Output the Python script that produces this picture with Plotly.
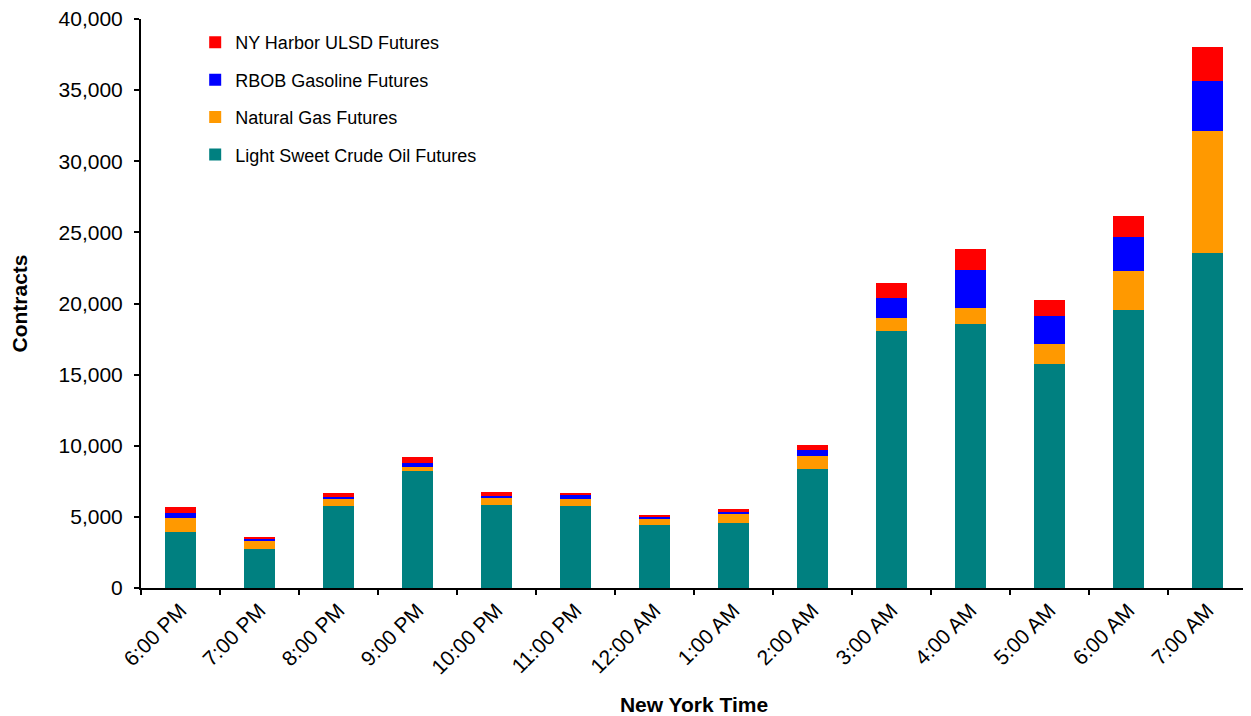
import plotly.graph_objects as go

categories = ["6:00 PM", "7:00 PM", "8:00 PM", "9:00 PM", "10:00 PM", "11:00 PM", "12:00 AM",
              "1:00 AM", "2:00 AM", "3:00 AM", "4:00 AM", "5:00 AM", "6:00 AM", "7:00 AM"]
crude = [3950, 2760, 5790, 8200, 5830, 5790, 4410, 4590, 8390, 18090, 18560, 15750, 19570, 23550]
natgas = [990, 590, 445, 306, 515, 470, 422, 608, 890, 890, 1146, 1406, 2743, 8550]
rbob = [352, 118, 187, 304, 140, 257, 141, 164, 445, 1383, 2650, 1992, 2389, 3520]
ulsd = [376, 117, 258, 375, 235, 188, 163, 188, 305, 1101, 1455, 1125, 1453, 2410]

series = [
    ("Light Sweet Crude Oil Futures", crude, "#008080"),
    ("Natural Gas Futures", natgas, "#FF9900"),
    ("RBOB Gasoline Futures", rbob, "#0000FF"),
    ("NY Harbor ULSD Futures", ulsd, "#FF0000"),
]

fig = go.Figure()
n = len(series)
for i, (name, vals, color) in enumerate(series):
    fig.add_trace(go.Bar(name=name, x=categories, y=vals, legendgroup=name,
                         legendrank=n - i,
                         marker=dict(color=color, line=dict(width=0))))

font = "Liberation Sans, Arial, sans-serif"
fig.update_layout(
    barmode="stack",
    bargap=0.6,
    width=1243, height=708,
    margin=dict(l=133, r=4, t=11, b=128),
    plot_bgcolor="white", paper_bgcolor="white",
    font=dict(family=font, size=21, color="black"),
    showlegend=True,
    legend=dict(x=0.049, y=0.991, xanchor="left", yanchor="top", traceorder="grouped",
                font=dict(size=18), bgcolor="rgba(0,0,0,0)", tracegroupgap=11,
                itemwidth=30),
    xaxis=dict(showline=True, linecolor="black", linewidth=2, ticks="outside", ticklen=5,
               tickcolor="black", tickwidth=2, tickson="boundaries", tickangle=-45,
               tickfont=dict(size=21), automargin=False,
               title=dict(text="<b>New York Time</b>", font=dict(size=21), standoff=23)),
    yaxis=dict(range=[0, 40000], dtick=5000, tickformat=",", showline=True, linecolor="black",
               linewidth=2, ticks="outside", ticklen=5, tickcolor="black", tickwidth=2,
               ticklabelstandoff=7, ticklabeloverflow="allow", automargin=False,
               showgrid=False, zeroline=False, tickfont=dict(size=21),
               title=dict(text="<b>Contracts</b>", font=dict(size=21), standoff=25)),
)

fig.write_html("out.html")
